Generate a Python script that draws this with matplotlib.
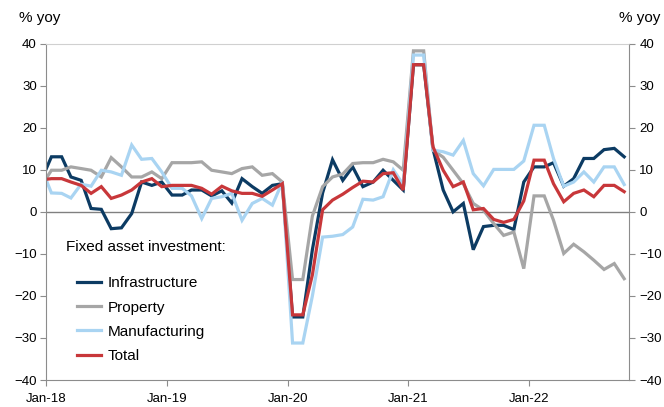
import pandas as pd
import matplotlib
matplotlib.use("Agg")
import matplotlib.pyplot as plt
import matplotlib.dates as mdates

plt.rcParams['font.family'] = ['Liberation Sans', 'DejaVu Sans']

# monthly yoy, Dec-17 .. Oct-22 (Jan/Feb reported together)
months = pd.date_range("2017-12-01", "2022-10-01", freq="MS") + pd.Timedelta(days=15)

infrastructure = [
    7.5,
    13.1, 13.1, 8.3, 7.5, 0.8, 0.6, -4.0, -3.8, -0.4, 7.1, 6.3, 7.1,
    4.0, 4.0, 5.2, 5.2, 3.8, 5.0, 2.1, 7.9, 6.0, 4.4, 6.3, 6.7,
    -25.0, -25.0, -9.0, 4.5, 12.4, 7.5, 10.7, 6.0, 7.1, 9.9, 7.5, 5.2,
    35.0, 35.0, 15.0, 5.2, 0.0, 2.0, -9.0, -3.5, -3.2, -3.2, -4.2, 7.1,
    10.7, 10.7, 11.7, 6.1, 7.9, 12.7, 12.7, 14.8, 15.1, 13.1,
]
property_ = [
    6.1,
    9.9, 9.9, 10.7, 10.3, 9.9, 8.3, 12.9, 10.7, 8.3, 8.3, 9.5, 7.9,
    11.7, 11.7, 11.7, 11.9, 9.9, 9.5, 9.1, 10.3, 10.7, 8.7, 9.1, 7.1,
    -16.1, -16.1, -1.0, 6.0, 8.3, 9.0, 11.5, 11.7, 11.7, 12.5, 11.9, 9.9,
    38.3, 38.3, 14.7, 13.0, 9.9, 6.7, 2.0, 0.4, -2.8, -5.6, -4.8, -13.5,
    3.8, 3.8, -2.0, -9.9, -7.7, -9.5, -11.5, -13.7, -12.3, -15.9,
]
manufacturing = [
    10.5,
    4.5, 4.4, 3.3, 6.6, 6.1, 9.9, 9.5, 8.7, 15.9, 12.5, 12.7, 9.5,
    5.6, 5.6, 3.8, -1.6, 3.2, 3.6, 4.4, -2.0, 2.0, 3.2, 1.6, 7.1,
    -31.2, -31.2, -20.0, -6.0, -5.8, -5.4, -3.6, 3.0, 2.8, 3.6, 10.0, 6.5,
    37.3, 37.3, 14.7, 14.3, 13.5, 17.0, 9.1, 6.2, 10.1, 10.1, 10.1, 12.1,
    20.6, 20.6, 12.7, 6.1, 7.1, 9.5, 7.1, 10.7, 10.7, 6.5,
]
total = [
    7.6,
    7.9, 7.9, 7.1, 6.3, 4.4, 6.0, 3.2, 4.0, 5.2, 7.1, 7.9, 6.0,
    6.3, 6.3, 6.3, 5.6, 4.2, 6.1, 5.0, 4.4, 4.4, 3.7, 5.2, 6.7,
    -24.5, -24.5, -15.0, 0.5, 2.8, 4.2, 5.8, 7.3, 7.1, 9.1, 9.3, 5.2,
    35.0, 35.0, 15.5, 9.9, 6.0, 7.1, 0.5, 0.8, -1.8, -2.5, -1.8, 2.6,
    12.3, 12.3, 6.7, 2.4, 4.4, 5.2, 3.6, 6.3, 6.3, 4.8,
]

series = [
    ("Infrastructure", infrastructure, "#0c3b63"),
    ("Property", property_, "#a6a6a6"),
    ("Manufacturing", manufacturing, "#a9d4f2"),
    ("Total", total, "#c8373a"),
]
year_ticks = pd.to_datetime(["2018-01-01", "2019-01-01", "2020-01-01", "2021-01-01", "2022-01-01"])

fig = plt.figure(figsize=(6.64, 4.07), dpi=100)
ax = fig.add_axes([0.070, 0.0663, 0.878, 0.8263])

for name, vals, col in series:
    ax.plot(months, vals, color=col, lw=2.3, label=name, solid_joinstyle="miter")

ax.axhline(0, color="#808080", lw=1.0, zorder=1)

ax.set_xlim(pd.Timestamp("2018-01-01"), pd.Timestamp("2022-11-01"))
ax.set_ylim(-40, 40)
ax.set_yticks(range(-40, 41, 10))
ax.set_xticks(year_ticks)
ax.xaxis.set_major_formatter(mdates.DateFormatter("%b-%y"))

for s in ["left", "right", "bottom"]:
    ax.spines[s].set_color("#8c8c8c")
ax.spines["top"].set_color("#d0d0d0")
ax.tick_params(axis="both", direction="out", length=4, color="#8c8c8c",
               labelsize=9.5, pad=3)
ax.tick_params(axis="x", labelsize=9.5, pad=5)

ax2 = ax.twinx()
ax2.set_ylim(-40, 40)
ax2.set_yticks(range(-40, 41, 10))
ax2.tick_params(axis="y", direction="out", length=4, color="#8c8c8c", labelsize=9.5, pad=3)
for s in ax2.spines.values():
    s.set_visible(False)

fig.text(0.029, 0.955, "% yoy", fontsize=11, va="center")
fig.text(0.995, 0.955, "% yoy", fontsize=11, va="center", ha="right")

fig.text(0.099, 0.393, "Fixed asset investment:", fontsize=11, va="center")
ax.legend(loc="upper left", bbox_to_anchor=(0.116, 0.321), bbox_transform=fig.transFigure,
          frameon=False, fontsize=11, handlelength=1.6, handletextpad=0.4,
          labelspacing=0.67, borderpad=0, borderaxespad=0)

fig.savefig("out.png", dpi=100)
